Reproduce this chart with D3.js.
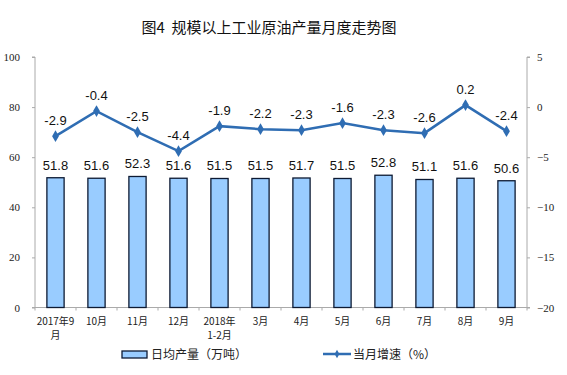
<!DOCTYPE html>
<html><head><meta charset="utf-8">
<script src="https://cdn.jsdelivr.net/npm/d3@7"></script>
<style>body{margin:0;background:#fff}svg{display:block}</style>
</head><body>
<svg id="c" width="567" height="375"></svg>
<script>
const categories = ["2017年9月","10月","11月","12月","2018年1-2月","3月","4月","5月","6月","7月","8月","9月"];
const tickLines = [["2017年9","月"],["10月"],["11月"],["12月"],["2018年","1-2月"],["3月"],["4月"],["5月"],["6月"],["7月"],["8月"],["9月"]];
const output = [51.8,51.6,52.3,51.6,51.5,51.5,51.7,51.5,52.8,51.1,51.6,50.6];
const growth = [-2.9,-0.4,-2.5,-4.4,-1.9,-2.2,-2.3,-1.6,-2.3,-2.6,0.2,-2.4];
const leftTicks = [0,20,40,60,80,100];
const rightTicks = [5,0,-5,-10,-15,-20];
const title = "图4\u00a0\u00a0规模以上工业原油产量月度走势图";
const legendBar = "日均产量（万吨）";
const legendLine = "当月增速（%）";

const svg = d3.select("#c");
const L = 35, R = 527, T = 57, B = 307.5;
const x = d3.scaleBand().domain(categories).range([L, R]).paddingInner(0.58).paddingOuter(0.29);
const xb = d3.scaleBand().domain(categories).range([L, R]);
const yL = d3.scaleLinear().domain([0,100]).range([B, T]);
const yR = d3.scaleLinear().domain([-20,5]).range([B, T]);
const lineColor = "#2f6db3";

svg.append("text").attr("x", 269).attr("y", 33).attr("text-anchor","middle")
  .attr("font-family","'Noto Sans CJK SC', sans-serif").attr("font-size",15).attr("fill","#111").text(title);

// left axis
const gl = svg.append("g").attr("transform",`translate(${L},0)`)
  .call(d3.axisLeft(yL).tickValues(leftTicks).tickSize(3).tickPadding(12));
gl.select(".domain").attr("stroke","#aaa").attr("d",`M-3,${T}H0V${B}H-3`);
gl.selectAll(".tick line").attr("stroke","#aaa");
gl.selectAll("text").attr("font-family","'Liberation Serif', serif").attr("font-size",11).attr("fill","#222");

// right axis
const gr = svg.append("g").attr("transform",`translate(${R},0)`)
  .call(d3.axisRight(yR).tickValues(rightTicks).tickSize(3).tickPadding(7).tickFormat(d3.format("d")));
gr.select(".domain").attr("stroke","#aaa").attr("d",`M3,${T}H0V${B}H3`);
gr.selectAll(".tick line").attr("stroke","#aaa");
gr.selectAll("text").attr("font-family","'Liberation Serif', serif").attr("font-size",11).attr("fill","#222");

// x axis
svg.append("line").attr("x1",L).attr("x2",R).attr("y1",B).attr("y2",B).attr("stroke","#aaa");
svg.selectAll(".xt").data(categories.concat(["_end"])).enter().append("line")
  .attr("x1",(d,i)=> L + i*xb.step()).attr("x2",(d,i)=> L + i*xb.step())
  .attr("y1",B).attr("y2",B+3).attr("stroke","#aaa");

// bars
svg.selectAll(".bar").data(output).enter().append("rect")
  .attr("x",(d,i)=>x(categories[i])).attr("width",x.bandwidth())
  .attr("y",d=>yL(d)).attr("height",d=>B-yL(d))
  .attr("fill","#99ccff").attr("stroke","#0d1a33").attr("stroke-width",1.3);
svg.selectAll(".bl").data(output).enter().append("text")
  .attr("x",(d,i)=>x(categories[i])+x.bandwidth()/2).attr("y",d=>yL(d)-8)
  .attr("text-anchor","middle").attr("font-family","'Liberation Sans', Arial, sans-serif")
  .attr("font-size",13).attr("fill","#111").text(d=>d.toFixed(1));

// x labels (one text element per line)
tickLines.forEach((lines,i)=>{
  const cx = x(categories[i]) + x.bandwidth()/2;
  lines.forEach((s,j)=>{
    svg.append("text").attr("x",cx).attr("y",325+j*14)
      .attr("text-anchor","middle").attr("font-family","'Noto Sans CJK SC', sans-serif")
      .attr("font-size",10).attr("fill","#222").text(s);
  });
});

// line
const cxs = (d,i)=>x(categories[i])+x.bandwidth()/2;
svg.append("path").datum(growth)
  .attr("d", d3.line().x(cxs).y(d=>yR(d)))
  .attr("fill","none").attr("stroke",lineColor).attr("stroke-width",2.5);
const diamond = d3.symbol().type(d3.symbolDiamond).size(40);
svg.selectAll(".pt").data(growth).enter().append("path")
  .attr("d",diamond).attr("transform",(d,i)=>`translate(${cxs(d,i)},${yR(d)})`).attr("fill",lineColor);
svg.selectAll(".gl").data(growth).enter().append("text")
  .attr("x",cxs).attr("y",d=>yR(d)-11)
  .attr("text-anchor","middle").attr("font-family","'Liberation Sans', Arial, sans-serif")
  .attr("font-size",13).attr("fill","#111").text(d=>d.toFixed(1));

// legend
svg.append("rect").attr("x",122).attr("y",351).attr("width",25).attr("height",7)
  .attr("fill","#99ccff").attr("stroke","#0d1a33").attr("stroke-width",1.3);
svg.append("text").attr("x",151).attr("y",359).attr("font-family","'Noto Sans CJK SC', sans-serif")
  .attr("font-size",12).attr("fill","#222").text(legendBar);
svg.append("line").attr("x1",323).attr("x2",351).attr("y1",354).attr("y2",354).attr("stroke",lineColor).attr("stroke-width",2.5);
svg.append("path").attr("d",d3.symbol().type(d3.symbolDiamond).size(20)).attr("transform","translate(337,354)").attr("fill",lineColor);
svg.append("text").attr("x",353).attr("y",359).attr("font-family","'Noto Sans CJK SC', sans-serif")
  .attr("font-size",12).attr("fill","#222").text(legendLine);
</script>
</body></html>
